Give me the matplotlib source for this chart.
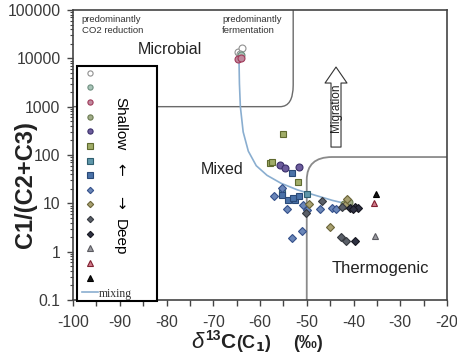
import matplotlib
matplotlib.use('Agg')
import matplotlib.pyplot as plt
from matplotlib.path import Path
from matplotlib.patches import PathPatch, Rectangle
from matplotlib.ticker import LogLocator, MultipleLocator, NullFormatter

# d13C of C1 (per mil) and C1/(C2+C3) for every sample group, shallow -> deep
series_d13c = [
    [-64.7, -63.9, -64.3],                         # open circle
    [-64.0],                                       # grey-green circle
    [-64.7, -64.0],                                # mauve circle
    [-42.0, -41.0],                                # olive circle
    [-55.7, -54.6, -51.6],                         # purple circle
    [-55.0, -57.9, -57.4, -51.9],                  # olive square
    [-49.9, -55.4],                                # teal square
    [-53.2, -55.4, -54.0, -52.5, -51.6, -53.0],    # blue square
    [-55.2, -57.0, -50.7, -50.0, -54.3, -47.2, -51.1, -53.2, -44.7, -43.7],
    [-49.5, -41.8, -41.3, -45.0],                  # khaki diamond
    [-50.2, -46.8, -42.7, -41.6, -42.5],           # grey diamond
    [-39.7, -40.8, -39.7, -39.0, -40.2],           # navy diamond
    [-35.5],                                       # grey triangle
    [-35.55],                                      # pink triangle
    [-35.25],                                      # black triangle
]
series_ratio = [
    [13500, 16500, 12500],
    [11500],
    [9500, 10000],
    [9.5, 10.5],
    [62, 53, 57],
    [268, 67, 73, 28],
    [15.6, 16],
    [42, 14.9, 11.7, 11.7, 14.2, 13],
    [20.5, 14.2, 9.2, 7.3, 7.6, 7.6, 2.7, 1.95, 7.9, 7.6],
    [9.5, 9.2, 12.3, 3.2],
    [6.4, 11.2, 2.0, 1.66, 8.5],
    [1.66, 8.1, 8.5, 8.1, 7.8],
    [2.1],
    [10],
    [15.4],
]

# mixing curve
mix_d13c = [-64.5, -64.4, -64.2, -63.6, -62.5, -60.8, -58.5, -55.5, -52, -48, -44.5, -41.5]
mix_ratio = [10000, 3000, 1000, 300, 120, 60, 38, 26, 19, 14.5, 11.5, 9.8]

# field boundaries
microbial_d13c = [-100, -55.7, -52.9, -52.9, -52.9]
microbial_ratio = [1000, 1000, 1000, 2800, 100000]
thermo_d13c = [-50, -50, -50, -44.6, -20]
thermo_ratio = [0.1, 30.4, 90.8, 90.8, 90.8]

x_ticks = [-100, -90, -80, -70, -60, -50, -40, -30, -20]
y_ticks = [0.1, 1, 10, 100, 1000, 10000, 100000]
y_tick_labels = ['0.1', '1', '10', '100', '1000', '10000', '100000']

markers = ['o', 'o', 'o', 'o', 'o', 's', 's', 's', 'D', 'D', 'D', 'D', '^', '^', '^']
faces = ['white', '#a8c4b8', '#c08a9e', '#a0ac88', '#6c5c9c', '#a0ac68', '#5f97aa', '#4a72a8',
         '#6a86b8', '#a8a070', '#5a5f68', '#2e3142', '#9a9aa0', '#d07a8a', '#151515']
edges = ['#909090', '#6f8f80', '#a03a5a', '#6a7a50', '#3a2f6a', '#5f6a2f', '#2f5f70', '#2a4a78',
         '#34508a', '#6a6438', '#34383e', '#15161f', '#5a5a60', '#802030', '#000000']

plt.rcParams['font.family'] = ['Liberation Sans', 'DejaVu Sans']
plt.rcParams['axes.unicode_minus'] = False

fig = plt.figure(figsize=(4.57, 3.61), dpi=100)
ax = fig.add_axes([73 / 457, 61 / 361, 374 / 457, 290 / 361])
ax.set_yscale('log')
ax.set_xlim(-100, -20)
ax.set_ylim(0.1, 100000)

# boundaries of microbial / thermogenic fields
codes = [Path.MOVETO, Path.LINETO, Path.CURVE3, Path.CURVE3, Path.LINETO]
ax.add_patch(PathPatch(Path(list(zip(microbial_d13c, microbial_ratio)), codes),
                       fill=False, ec='#6a6a6a', lw=1.0, zorder=1))
ax.add_patch(PathPatch(Path(list(zip(thermo_d13c, thermo_ratio)), codes),
                       fill=False, ec='#8a8a8a', lw=1.3, zorder=1))

handles = []
for i in range(len(series_d13c)):
    ms = 5.0 if markers[i] != 'D' else 4.3
    h, = ax.plot(series_d13c[i], series_ratio[i], ls='none', marker=markers[i], ms=ms,
                 mfc=faces[i], mec=edges[i], mew=0.8, zorder=3)
    handles.append(h)

mix, = ax.plot(mix_d13c, mix_ratio, color='#8aaed0', lw=1.2, zorder=2)
handles.append(mix)

# migration arrow
ax.annotate('', xy=(-43.74, 6600), xytext=(-43.74, 146),
            arrowprops=dict(arrowstyle='simple,head_length=1.15,head_width=1.58,tail_width=0.72',
                            fc='white', ec='#333333', lw=0.8, shrinkA=0, shrinkB=0,
                            mutation_scale=10), zorder=2)
ax.text(-43.74, 937, 'Migration', rotation=90, fontsize=8.5, ha='center', va='center',
        color='#222222', zorder=4)

ax.text(-79.25, 14900, 'Microbial', fontsize=11.5, ha='center', va='center', color='#222222')
ax.text(-68.1, 49, 'Mixed', fontsize=11.5, ha='center', va='center', color='#222222')
ax.text(-34.3, 0.44, 'Thermogenic', fontsize=12, ha='center', va='center', color='#222222')
ax.text(-98.1, 78000, 'predominantly\nCO2 reduction', fontsize=6.8, ha='left', va='top',
        color='#333333', linespacing=1.25)
ax.text(-68.1, 78000, 'predominantly\nfermentation', fontsize=6.8, ha='left', va='top',
        color='#333333', linespacing=1.25)

# legend box
ax.add_patch(Rectangle((0.0107, -0.003), 0.214, 0.81, transform=ax.transAxes,
                       fc='white', ec='black', lw=1.5, zorder=5, clip_on=False))
labels = [''] * 15 + ['mixing']
leg = ax.legend(handles, labels, loc='upper left', bbox_to_anchor=(0.024, 0.801),
                frameon=False, borderpad=0, borderaxespad=0, handlelength=1.36,
                handletextpad=0.1, labelspacing=0.225, markerscale=0.75,
                prop={'family': 'Liberation Serif', 'size': 8.5})
leg.set_zorder(6)
for t in leg.get_texts():
    t.set_color('#333333')

ax.text(0.1257, 0.70, 'Shallow', rotation=270, fontsize=11, ha='center', va='top',
        transform=ax.transAxes, zorder=7)
ax.text(0.1257, 0.155, 'Deep', rotation=270, fontsize=11, ha='center', va='bottom',
        transform=ax.transAxes, zorder=7)
ax.text(0.1257, 0.452, '\u2190', rotation=270, fontsize=11, ha='center', va='center',
        family='DejaVu Sans', transform=ax.transAxes, zorder=7)
ax.text(0.1257, 0.338, '\u2192', rotation=270, fontsize=11, ha='center', va='center',
        family='DejaVu Sans', transform=ax.transAxes, zorder=7)

# axes styling
for s in ax.spines.values():
    s.set_color('#444444')
    s.set_linewidth(1.2)
ax.set_xticks(x_ticks)
ax.xaxis.set_minor_locator(MultipleLocator(5))
ax.set_yticks(y_ticks)
ax.set_yticklabels(y_tick_labels)
ax.yaxis.set_minor_locator(LogLocator(base=10, subs=range(2, 10), numticks=20))
ax.yaxis.set_minor_formatter(NullFormatter())
ax.tick_params(axis='x', which='both', direction='out', length=4, width=1, color='#444444',
               labelsize=11.3, labelcolor='#3a3a3a', pad=7)
ax.tick_params(axis='y', which='major', direction='out', length=4, width=1, color='#444444',
               labelsize=11.3, labelcolor='#3a3a3a', pad=5)
ax.tick_params(axis='y', which='minor', direction='out', length=2.5, width=0.8, color='#444444')

ax.set_ylabel('C1/(C2+C3)', fontsize=17, fontweight='bold', va='center', color='#222222')
ax.yaxis.set_label_coords(-0.128, 0.397)

# x axis title built from pieces of different size
fig.text(197 / 457, 1 - 348 / 361, '\u03b4', fontsize=16, style='italic', ha='center',
         va='baseline', color='#222222')
fig.text(205 / 457, 1 - 340 / 361, '13', fontsize=10, fontweight='bold', ha='left',
         va='baseline', color='#222222')
fig.text(220 / 457, 1 - 348 / 361, 'C', fontsize=15, fontweight='bold', ha='left',
         va='baseline', color='#222222')
fig.text(236 / 457, 1 - 348 / 361, r'(C$_\mathbf{1}$)', fontsize=13, fontweight='bold',
         ha='left', va='baseline', color='#222222')
fig.text(293 / 457, 1 - 348 / 361, '(\u2030)', fontsize=13, fontweight='bold', ha='left',
         va='baseline', color='#222222')

fig.savefig('out.png', dpi=100)
